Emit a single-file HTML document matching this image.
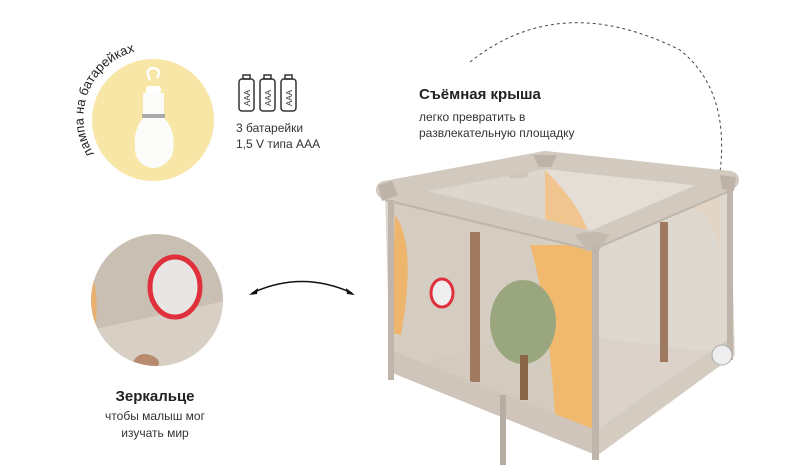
<!DOCTYPE html>
<html><head><meta charset="utf-8"><style>
body{margin:0;background:#fff}
svg{display:block;font-family:"Liberation Sans","Noto Sans CJK SC",sans-serif}
</style></head><body>
<svg width="800" height="475" viewBox="0 0 800 475">
<defs>
<path id="arcT" d="M94,154 A68,68 0 0 1 200,70"/>
<clipPath id="mc"><circle cx="157" cy="300" r="66"/></clipPath>
</defs>
<!-- lamp circle -->
<circle cx="153" cy="120" r="61" fill="#f7e6a6"/>
<text font-size="13" fill="#222"><textPath href="#arcT">лампа на батарейках</textPath></text>
<path d="M150,80 q-6,-12 4,-12 q8,2 3,10" fill="none" stroke="#fff" stroke-width="2.5"/>
<rect x="146" y="86" width="15" height="8" rx="3" fill="#fff"/>
<path d="M143,93 h21 v25 q14,15 8,38 q-8,12 -18,12 q-12,0 -18,-12 q-5,-23 7,-38 z" fill="#fbfbf9"/>
<rect x="142" y="114" width="23" height="4" fill="#aaa"/>
<!-- batteries -->
<g fill="none" stroke="#333" stroke-width="1.5">
<rect x="239" y="79" width="15" height="32" rx="3"/><rect x="243" y="75" width="7" height="4"/>
<rect x="260" y="79" width="15" height="32" rx="3"/><rect x="264" y="75" width="7" height="4"/>
<rect x="281" y="79" width="15" height="32" rx="3"/><rect x="285" y="75" width="7" height="4"/>
</g>
<g font-size="8" fill="#333">
<text transform="translate(250,106) rotate(-90)">AAA</text>
<text transform="translate(271,106) rotate(-90)">AAA</text>
<text transform="translate(292,106) rotate(-90)">AAA</text>
</g>
<text x="236" y="132" font-size="12" fill="#333">3 батарейки</text>
<text x="236" y="148" font-size="12" fill="#333">1,5 V типа AAA</text>
<!-- mirror circle -->
<g clip-path="url(#mc)">
<rect x="90" y="230" width="140" height="140" fill="#c9bfb2"/>
<path d="M90,330 L230,300 L230,370 L90,370 z" fill="#d8d0c4"/>
<path d="M90,270 q10,20 5,60 l-5,0z" fill="#e8b070"/>
<path d="M130,370 q5,-20 20,-15 q15,5 5,15z" fill="#b88a6e"/>
<ellipse cx="175" cy="287" rx="25" ry="30" fill="#e8e6e4" stroke="#e0303c" stroke-width="5"/>
</g>
<text x="155" y="401" font-size="15" font-weight="bold" text-anchor="middle" fill="#222">Зеркальце</text>
<text x="155" y="420" font-size="12" text-anchor="middle" fill="#333">чтобы малыш мог</text>
<text x="155" y="437" font-size="12" text-anchor="middle" fill="#333">изучать мир</text>
<!-- arrow -->
<path d="M252,293 Q302,270 352,293" fill="none" stroke="#111" stroke-width="1.5"/>
<path d="M249,295 l9,-7 l-1,6z M355,295 l-9,-7 l1,6z" fill="#111"/>
<!-- dashed arc -->
<path d="M470,62 Q560,-10 680,50 Q730,90 720,172" fill="none" stroke="#444" stroke-width="1" stroke-dasharray="3,3"/>
<text x="419" y="99" font-size="15" font-weight="bold" fill="#222">Съёмная крыша</text>
<text x="419" y="121" font-size="12" fill="#333">легко превратить в</text>
<text x="419" y="137" font-size="12" fill="#333">развлекательную площадку</text>
<!-- crib -->
<g>
<!-- back walls -->
<polygon points="385,190 545,160 545,330 390,370" fill="#ddd6cd"/>
<polygon points="545,160 730,180 735,355 545,330" fill="#e4ded7"/>
<polygon points="390,370 545,330 735,355 598,455" fill="#d6cdc2"/>
<path d="M545,170 q40,40 45,70 l-45,0z" fill="#f0c590"/>
<path d="M680,200 q40,20 40,60 l0,-70z" fill="#f2d3b6"/>
<rect x="508" y="170" width="20" height="8" rx="3" fill="#cfc6bb"/>
<!-- front walls (mesh) -->
<polygon points="388,200 593,243 596,455 390,372" fill="#d3c9be" opacity="0.75"/>
<polygon points="593,243 731,190 734,355 596,455" fill="#ddd5cc" opacity="0.7"/>
<path d="M395,215 q22,30 6,120 l-10,-2 z" fill="#eeb56c"/>
<path d="M530,245 q18,60 25,170 l38,20 l0,-190z" fill="#f0b96e"/>
<rect x="470" y="232" width="10" height="150" fill="#a07a60"/>
<rect x="660" y="222" width="8" height="140" fill="#a07a60"/>
<ellipse cx="523" cy="322" rx="33" ry="42" fill="#9aa77e"/>
<rect x="520" y="355" width="8" height="45" fill="#8a6648"/>
<ellipse cx="442" cy="293" rx="11" ry="14" fill="#eee" stroke="#e0303c" stroke-width="3"/>
<!-- bottom band -->
<polygon points="390,350 596,430 596,455 390,372" fill="#cfc5ba"/>
<polygon points="596,430 734,335 734,355 596,455" fill="#d4cbc1"/>
<!-- top rim -->
<polygon points="385,190 545,160 730,180 592,240" fill="none" stroke="#d3cabf" stroke-width="18" stroke-linejoin="round"/>
<polyline points="385,200 592,250 732,190" fill="none" stroke="#bfb5aa" stroke-width="2"/>
<path d="M533,155 h24 l-6,12 h-12z" fill="#bdb3a8"/>
<path d="M575,235 q18,-6 34,0 l-10,16 h-12z" fill="#c4bbb0"/>
<path d="M378,185 l14,-4 l6,14 l-16,6z M720,175 l16,2 l-2,14 l-12,-2z" fill="#bdb3a8"/>
<rect x="388" y="200" width="6" height="180" fill="#bfb5aa"/>
<rect x="592" y="245" width="7" height="215" fill="#bfb5aa"/>
<rect x="727" y="190" width="6" height="170" fill="#bfb5aa"/>
<rect x="500" y="395" width="6" height="70" fill="#b7aea3"/>
<circle cx="722" cy="355" r="10" fill="#eee" stroke="#aaa"/>
</g>
</svg>
</body></html>
